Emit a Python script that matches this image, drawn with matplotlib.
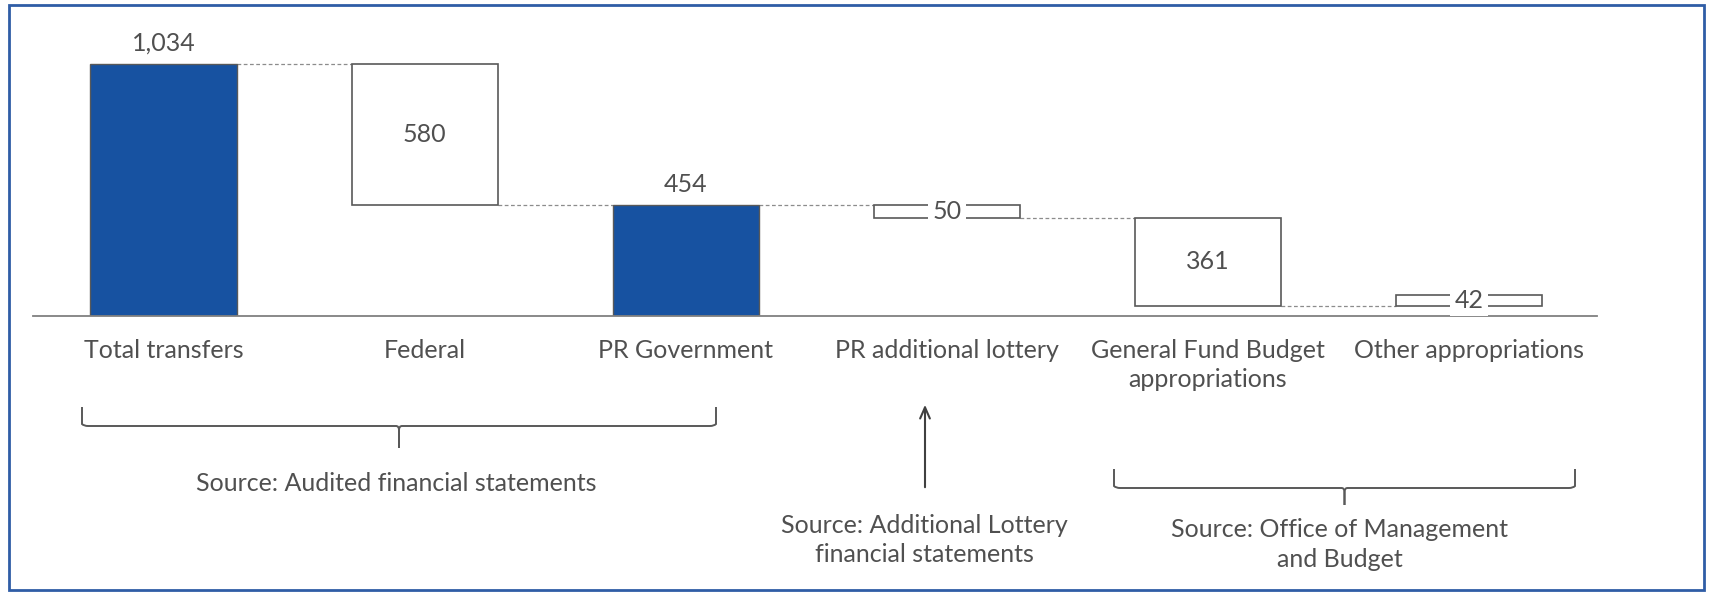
import matplotlib
matplotlib.use("Agg")
import matplotlib.pyplot as plt
from matplotlib.patches import Rectangle, PathPatch
from matplotlib.path import Path

plt.rcParams['font.family'] = ['Lato', 'DejaVu Sans']

categories = ['Total transfers', 'Federal', 'PR Government', 'PR additional lottery',
              'General Fund Budget\nappropriations', 'Other appropriations']
values = [1034, 580, 454, 50, 361, 42]
kinds = ['total', 'down', 'total', 'down', 'down', 'up']
valueLabels = ['1,034', '580', '454', '50', '361', '42']

sources = ['Source: Audited financial statements',
           'Source: Additional Lottery\nfinancial statements',
           'Source: Office of Management\nand Budget']

BLUE = '#1752A1'
EDGE = '#595959'
TEXT = '#505050'
FS = 18

fig = plt.figure(figsize=(17.12, 5.92), dpi=100)

# overlay in pixel coordinates for braces, arrow and source notes
over = fig.add_axes([0, 0, 1, 1])
over.set_xlim(0, 1712)
over.set_ylim(592, 0)
over.axis('off')

ax = fig.add_axes([33 / 1712, (592 - 316) / 592, (1597 - 33) / 1712, 296 / 592])
ax.set_xlim(-0.5, 5.49)
ax.set_ylim(0, 1215)
for s in ['top', 'right', 'left']:
    ax.spines[s].set_visible(False)
ax.spines['bottom'].set_color('#808080')
ax.spines['bottom'].set_linewidth(1.3)
ax.set_yticks([])
ax.set_xticks(range(len(categories)))
ax.set_xticklabels(categories, fontsize=FS, color=TEXT)
for lbl in ax.get_xticklabels():
    lbl.set_linespacing(1.32)
ax.tick_params(axis='x', length=0, pad=16.5)
ax.patch.set_alpha(0)

# waterfall bars
width = 0.56
level = 0
bottoms = []
for v, k in zip(values, kinds):
    if k == 'total':
        bottom = 0
        level = v
    elif k == 'down':
        level = level - v
        bottom = level
    else:
        bottom = level
        level = level + v
    bottoms.append(bottom)

for i, (v, k, b) in enumerate(zip(values, kinds, bottoms)):
    if k == 'total':
        ax.bar(i, v, width, bottom=b, color=BLUE, edgecolor=EDGE, linewidth=1, zorder=2)
        ax.annotate(valueLabels[i], (i, b + v), xytext=(0, 10), textcoords='offset points',
                    ha='center', va='baseline', fontsize=FS, color=TEXT)
    else:
        ax.bar(i, v, width, bottom=b, color='white', edgecolor=EDGE, linewidth=1.2, zorder=2)
        small = v < 100
        ax.text(i, b + v / 2, valueLabels[i], ha='center', va='center', fontsize=FS, color=TEXT,
                zorder=4, clip_on=False,
                bbox=dict(facecolor='white', edgecolor='none', pad=3) if small else None)

# dashed connectors between neighbouring bars
for i in range(len(values) - 1):
    if kinds[i] == 'total':
        y = values[i]
    elif kinds[i] == 'down':
        y = bottoms[i]
    else:
        y = bottoms[i] + values[i]
    ax.plot([i + width / 2, i + 1 - width / 2], [y, y], ls=(0, (3, 2)), color='#8c8c8c', lw=0.9, zorder=1)


def drawBrace(x0, x1, ytop, ybar, ytip):
    xm = (x0 + x1) / 2
    left = [(x0, ytop), (x0, ybar - 2), (x0 + 2, ybar), (x0 + 6, ybar),
            (xm - 3, ybar), (xm, ybar), (xm, ybar + 4), (xm, ytip)]
    right = [(xm, ytip), (xm, ybar + 4), (xm, ybar), (xm + 3, ybar),
             (x1 - 6, ybar), (x1 - 2, ybar), (x1, ybar - 2), (x1, ytop)]
    codes = [Path.MOVETO, Path.LINETO, Path.CURVE3, Path.CURVE3,
             Path.LINETO, Path.CURVE3, Path.CURVE3, Path.LINETO]
    for verts in (left, right):
        over.add_patch(PathPatch(Path(verts, codes), fill=False, edgecolor='#595959', lw=1.4))


drawBrace(82, 716, 407, 426, 448)
drawBrace(1114, 1575, 469, 488, 505)

over.annotate('', xy=(925, 402), xytext=(925, 490),
              arrowprops=dict(arrowstyle='->,head_length=0.8,head_width=0.35', color='#404040', lw=1.5))

# baseline alignment of a multi-line text refers to its last line
over.text(396, 491, sources[0], ha='center', va='baseline', fontsize=FS, color=TEXT)
over.text(924, 562, sources[1], ha='center', va='baseline', fontsize=FS, color=TEXT, linespacing=1.32)
over.text(1340, 567, sources[2], ha='center', va='baseline', fontsize=FS, color=TEXT, linespacing=1.36)

# outer frame
fig.patches.append(Rectangle((9 / 1712, 2 / 592), 1695 / 1712, 585 / 592, transform=fig.transFigure,
                             fill=False, edgecolor='#2F5DA6', lw=2))

fig.savefig('out.png', dpi=100)
